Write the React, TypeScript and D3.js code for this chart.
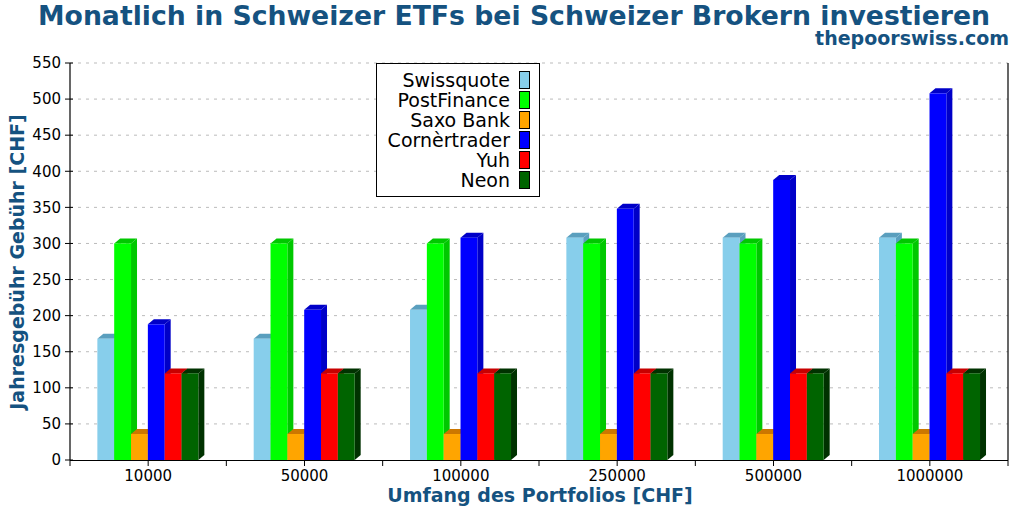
import React from "react";
import * as d3 from "d3";

const categories = ["10000", "50000", "100000", "250000", "500000", "1000000"];
const seriesNames = ["Swissquote", "PostFinance", "Saxo Bank", "Cornèrtrader", "Yuh", "Neon"];
const swissquote = [168, 168, 208, 308, 308, 308];
const postfinance = [300, 300, 300, 300, 300, 300];
const saxoBank = [36, 36, 36, 36, 36, 36];
const cornertrader = [188, 208, 308, 348, 388, 508];
const yuh = [120, 120, 120, 120, 120, 120];
const neon = [120, 120, 120, 120, 120, 120];
const yTicks = [0, 50, 100, 150, 200, 250, 300, 350, 400, 450, 500, 550];

const seriesValues = [swissquote, postfinance, saxoBank, cornertrader, yuh, neon];
const frontColors = ["#87CEEB", "#00FF00", "#FFA500", "#0000FF", "#FF0000", "#006400"];
const shadeColors = ["#5A9FBE", "#00C800", "#CC7700", "#0000C8", "#C80000", "#003200"];

const W = 1024;
const H = 512;
const left = 70;
const right = 1008;
const top = 63;
const bottom = 460;
const DX = 6;
const DY = 5;
const TITLE_COLOR = "#155280";
const FONT = "'DejaVu Sans', sans-serif";

export default function App() {
  const y = d3.scaleLinear().domain([0, 550]).range([bottom, top]);
  const x = d3.scaleBand<string>().domain(categories).range([left, right]).padding(0);
  const bw = x.bandwidth();
  const groupOffset = bw * 0.175;
  const groupWidth = bw * 0.646;
  const xs = d3.scaleBand<string>().domain(seriesNames).range([0, groupWidth]).padding(0);
  const w = xs.bandwidth();

  const xTickPositions: number[] = [];
  categories.forEach((c) => {
    xTickPositions.push(x(c)!);
    xTickPositions.push(x(c)! + bw / 2);
  });
  xTickPositions.push(right);

  return (
    <svg
      width={W}
      height={H}
      style={{ position: "absolute", left: 0, top: 0, background: "#fff" }}
      fontFamily={FONT}
    >
      <rect x={0} y={0} width={W} height={H} fill="#fff" />
      <text
        x={514}
        y={25}
        textAnchor="middle"
        fontSize={27}
        fontWeight="bold"
        fill={TITLE_COLOR}
        textLength={952}
        lengthAdjust="spacingAndGlyphs"
      >
        Monatlich in Schweizer ETFs bei Schweizer Brokern investieren
      </text>
      <text x={1009} y={45} textAnchor="end" fontSize={19} fontWeight="bold" fill={TITLE_COLOR}>
        thepoorswiss.com
      </text>

      {/* grid */}
      {yTicks.filter((t) => t > 0).map((t) => (
        <line
          key={"g" + t}
          x1={left}
          x2={right}
          y1={y(t)}
          y2={y(t)}
          stroke="#bbbbbb"
          strokeWidth={1}
          strokeDasharray="3,5"
        />
      ))}

      {/* bars */}
      {categories.map((c, ci) => (
        <g key={c}>
          {seriesNames.map((s, si) => {
            const v = seriesValues[si][ci];
            const x0 = x(c)! + groupOffset + xs(s)!;
            const x1 = x0 + w;
            const yv = y(v);
            const y0 = y(0);
            const topPts = `${x0},${yv} ${x0 + DX},${yv - DY} ${x1 + DX},${yv - DY} ${x1},${yv}`;
            const sidePts = `${x1},${yv} ${x1 + DX},${yv - DY} ${x1 + DX},${y0 - DY} ${x1},${y0}`;
            return (
              <g key={s}>
                <polygon points={sidePts} fill={shadeColors[si]} />
                <polygon points={topPts} fill={shadeColors[si]} />
                <rect x={x0} y={yv} width={w} height={y0 - yv} fill={frontColors[si]} />
              </g>
            );
          })}
        </g>
      ))}

      {/* axes */}
      <line x1={left} x2={left} y1={top} y2={bottom} stroke="#000" strokeWidth={1.2} />
      <line x1={right} x2={right} y1={top} y2={bottom} stroke="#000" strokeWidth={1.2} />
      <line x1={left} x2={right} y1={bottom + 0.5} y2={bottom + 0.5} stroke="#000" strokeWidth={1.2} />
      {yTicks.map((t) => (
        <g key={"yt" + t}>
          <line x1={left - 5} x2={left + 3} y1={y(t)} y2={y(t)} stroke="#000" strokeWidth={1} />
          <text x={61} y={y(t)} dy="0.35em" textAnchor="end" fontSize={15} fill="#000">
            {t}
          </text>
        </g>
      ))}
      {xTickPositions.map((p, i) => (
        <line key={"xt" + i} x1={p} x2={p} y1={bottom} y2={bottom + 6} stroke="#000" strokeWidth={1} />
      ))}
      {categories.map((c) => (
        <text key={"xl" + c} x={x(c)! + bw / 2} y={481} textAnchor="middle" fontSize={15} fill="#000">
          {c}
        </text>
      ))}
      <text x={540} y={502} textAnchor="middle" fontSize={19} fontWeight="bold" fill={TITLE_COLOR}>
        Umfang des Portfolios [CHF]
      </text>
      <text
        transform={`translate(24, 262) rotate(-90)`}
        textAnchor="middle"
        fontSize={19}
        fontWeight="bold"
        fill={TITLE_COLOR}
      >
        Jahresgebühr Gebühr [CHF]
      </text>

      {/* legend */}
      <rect x={376.5} y={63.5} width={163} height={133} fill="#fff" stroke="#000" strokeWidth={1} />
      {seriesNames.map((s, i) => (
        <g key={"lg" + s}>
          <text x={510} y={86.5 + i * 20} textAnchor="end" fontSize={19} fill="#000">
            {s}
          </text>
          <rect x={519.5} y={71.5 + i * 20} width={10} height={17} fill={frontColors[i]} stroke="#000" strokeWidth={1} />
        </g>
      ))}
    </svg>
  );
}
